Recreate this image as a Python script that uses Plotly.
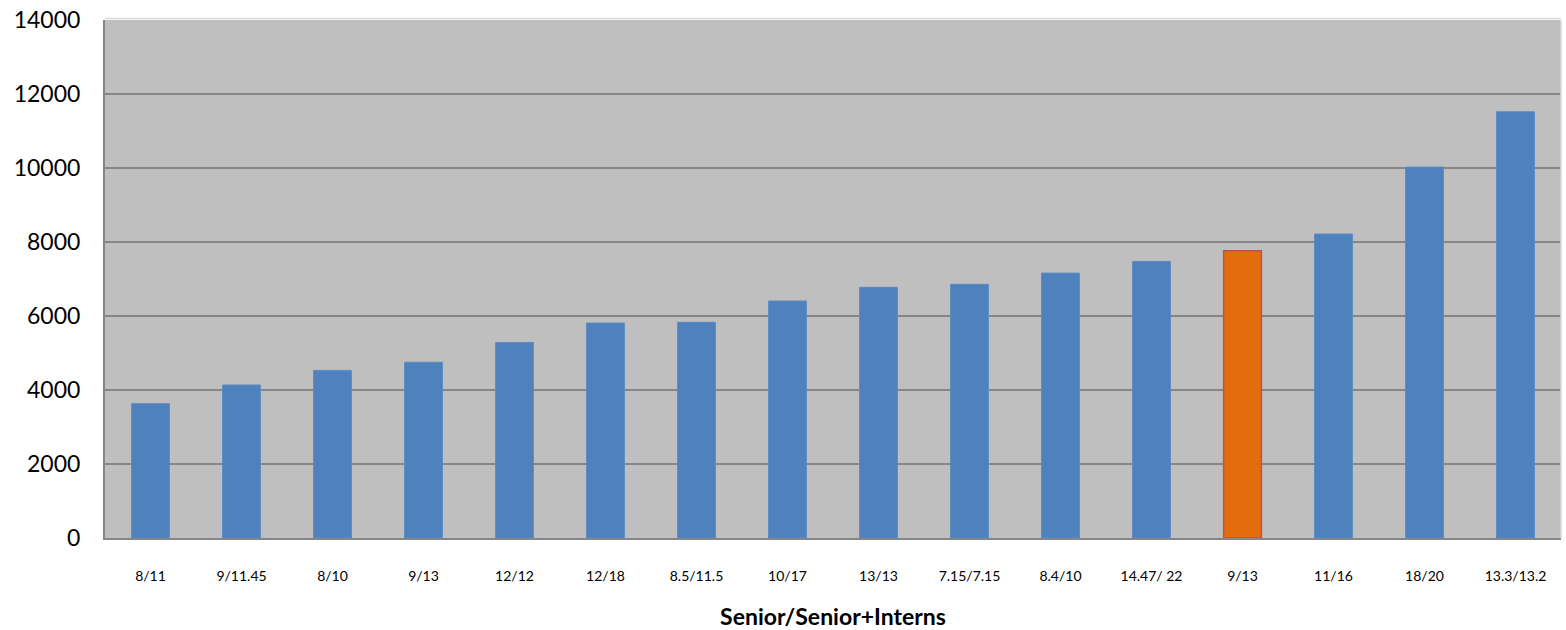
import plotly.graph_objects as go

categories = ["8/11", "9/11.45", "8/10", "9/13", "12/12", "12/18", "8.5/11.5", "10/17",
              "13/13", "7.15/7.15", "8.4/10", "14.47/ 22", "9/13", "11/16", "18/20", "13.3/13.2"]
values = [3630, 4135, 4530, 4750, 5285, 5810, 5830, 6405, 6775, 6855, 7160, 7475, 7765, 8215, 10025, 11520]
highlight_index = 12

y_ticks = [0, 2000, 4000, 6000, 8000, 10000, 12000, 14000]
y_tick_labels = ["0", "2000", "4000", "6000", "8000", "10000", "12000", "14000"]

blue = "#4F81BD"
orange = "#E46C0A"
colors = [orange if i == highlight_index else blue for i in range(len(values))]
line_colors = ["#C0504D" if i == highlight_index else "#5A8AC6" for i in range(len(values))]
line_widths = [1.5 if i == highlight_index else 1 for i in range(len(values))]

fig = go.Figure(go.Bar(
    x=list(range(len(categories))),
    y=values,
    marker=dict(color=colors, line=dict(color=line_colors, width=line_widths)),
    width=0.415,
    hoverinfo="y",
))

fig.update_layout(
    width=1566, height=630,
    margin=dict(l=105, r=5, t=20, b=92),
    plot_bgcolor="#BFBFBF",
    paper_bgcolor="white",
    font=dict(family="Lato, Carlito, sans-serif", color="black"),
    showlegend=False,
)

fig.update_xaxes(
    tickmode="array",
    tickvals=list(range(len(categories))),
    ticktext=categories,
    range=[-0.5, len(categories) - 0.5],
    tickfont=dict(size=14),
    showline=True, linecolor="#868686", linewidth=2,
    showgrid=False, ticks="", ticklabelstandoff=24,
    title=dict(text="<b>Senior/Senior+Interns</b>", font=dict(size=23), standoff=26),
)
fig.update_yaxes(
    range=[0, 14000],
    tickmode="array",
    tickvals=y_ticks,
    ticktext=y_tick_labels,
    tickfont=dict(size=23),
    showline=True, linecolor="#868686", linewidth=2,
    showgrid=True, gridcolor="#868686", gridwidth=2,
    zeroline=False, ticks="", ticklabelstandoff=18,
)

# light frame on top and right of plot area
fig.add_shape(type="line", xref="paper", yref="paper", x0=0, x1=1, y0=1.003, y1=1.003,
              line=dict(color="#D9D9D9", width=1.5))
fig.add_shape(type="line", xref="paper", yref="paper", x0=1.0, x1=1.0, y0=0, y1=1,
              line=dict(color="#D9D9D9", width=1.5))

fig.write_html("out.html")
